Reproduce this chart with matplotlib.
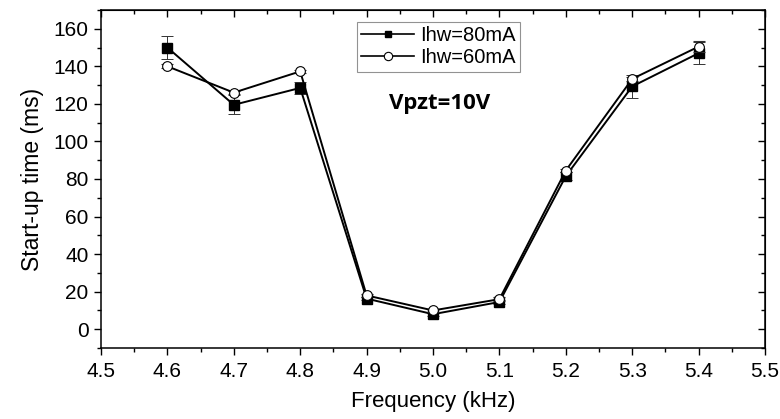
import matplotlib
matplotlib.use("Agg")
import matplotlib.pyplot as plt
from matplotlib.ticker import MultipleLocator
from matplotlib.lines import Line2D

plt.rcParams['font.family'] = ['Liberation Sans', 'DejaVu Sans']

freq = [4.6, 4.7, 4.8, 4.9, 5.0, 5.1, 5.2, 5.3, 5.4]
t80 = [150, 119.5, 128.5, 16.3, 8, 14.5, 81.5, 129.3, 147]
e80 = [6, 5, 3, 1, 1, 1, 2, 6, 6]
t60 = [140, 126, 137.3, 18, 10, 16, 84.5, 133.3, 150.5]
e60 = [1, 1, 1, 1, 1, 1, 1, 1, 3]
labels = ['Ihw=80mA', 'Ihw=60mA']

xticks = [4.5, 4.6, 4.7, 4.8, 4.9, 5.0, 5.1, 5.2, 5.3, 5.4, 5.5]
yticks = [0, 20, 40, 60, 80, 100, 120, 140, 160]

fig = plt.figure(figsize=(7.8, 4.19), dpi=100)
ax = fig.add_axes([101/780, 1-348/419, (765-101)/780, (348-10)/419])

ax.errorbar(freq, t80, yerr=e80, color='black', lw=1.4, marker='s', ms=6.5,
            mfc='black', mec='black', ecolor='#333333', elinewidth=0.7,
            capsize=4, capthick=0.7, zorder=3)
ax.errorbar(freq, t60, yerr=e60, color='black', lw=1.4, marker='o', ms=7,
            mfc='white', mec='black', mew=0.8, ecolor='#333333', elinewidth=0.7,
            capsize=4, capthick=0.7, zorder=4)

ax.set_xlim(4.5, 5.5)
ax.set_ylim(-10, 170)
ax.set_xticks(xticks)
ax.set_xticklabels([f"{v:.1f}" for v in xticks])
ax.set_yticks(yticks)
ax.xaxis.set_minor_locator(MultipleLocator(0.05))
ax.yaxis.set_minor_locator(MultipleLocator(10))
ax.tick_params(axis='both', which='major', direction='out', length=5, width=1,
               labelsize=15, top=False, right=False)
ax.tick_params(axis='x', which='major', pad=5)
ax.tick_params(axis='y', which='major', pad=4)
ax.tick_params(axis='both', which='minor', direction='out', length=3, width=1,
               top=False, right=False)
for s in ax.spines.values():
    s.set_linewidth(1.1)

ax2 = ax.secondary_xaxis('top')
ax2.set_xticks(xticks)
ax2.xaxis.set_minor_locator(MultipleLocator(0.05))
ax2.tick_params(axis='x', which='major', direction='in', length=5, width=1, labeltop=False)
ax2.tick_params(axis='x', which='minor', direction='in', length=3, width=1)
ay2 = ax.secondary_yaxis('right')
ay2.set_yticks(yticks)
ay2.yaxis.set_minor_locator(MultipleLocator(10))
ay2.tick_params(axis='y', which='major', direction='in', length=5, width=1, labelright=False)
ay2.tick_params(axis='y', which='minor', direction='in', length=3, width=1)

ax.set_xlabel('Frequency (kHz)', fontsize=16, labelpad=7)
ax.set_ylabel('Start-up time (ms)', fontsize=16.5, labelpad=7)

handles = [Line2D([], [], color='black', lw=1.2, marker='s', ms=5, mfc='black', mec='black'),
           Line2D([], [], color='black', lw=1.2, marker='o', ms=6, mfc='white', mec='black', mew=0.8)]
leg = ax.legend(handles, labels, loc='upper left', bbox_to_anchor=((357-101)/664, (348-22)/338),
                fontsize=14.5, frameon=True, fancybox=False, edgecolor='#777777',
                handlelength=2.6, borderpad=0.22, labelspacing=0.15, handletextpad=0.3,
                borderaxespad=0)
leg.get_frame().set_linewidth(0.8)

ax.text((440-101)/664, (348-103)/338, 'Vpzt=10V', transform=ax.transAxes, fontsize=16,
        fontweight='bold', ha='center', va='center',
        family=['Open Sans', 'DejaVu Sans'])

fig.savefig('out.png', dpi=100)
